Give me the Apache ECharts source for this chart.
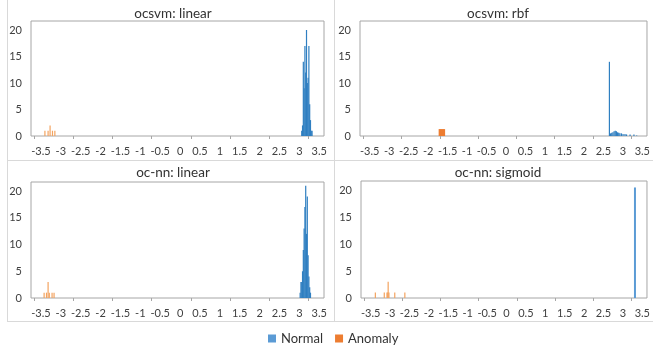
<!DOCTYPE html>
<html>
<head>
<meta charset="utf-8">
<script src="https://cdn.jsdelivr.net/npm/echarts@6/dist/echarts.min.js"></script>
<style>
  html, body { margin: 0; padding: 0; background: #fff; }
  #main { width: 653px; height: 347px; }
</style>
</head>
<body>
<div id="main"></div>
<script>
// chart data
var panelTitles = ['ocsvm: linear', 'ocsvm: rbf', 'oc-nn: linear', 'oc-nn: sigmoid'];
var xLabels = [-3.5, -3, -2.5, -2, -1.5, -1, -0.5, 0, 0.5, 1, 1.5, 2, 2.5, 3, 3.5];
var yLabels = [0, 5, 10, 15, 20];

// ocsvm: linear
var svmLinNormalX = [3.06, 3.08, 3.10, 3.12, 3.14, 3.16, 3.18, 3.20, 3.22, 3.24, 3.26, 3.28, 3.30, 3.32];
var svmLinNormalY = [1, 2, 14, 9, 17, 12, 20, 10, 11, 17, 6, 3, 1, 1];
var svmLinAnomX = [-3.40, -3.32, -3.27, -3.21, -3.15];
var svmLinAnomY = [1, 1, 2, 1, 1];

// ocsvm: rbf
var svmRbfNormalX = [2.66, 2.69, 2.72, 2.75, 2.78, 2.81, 2.84, 2.87, 2.90, 2.93, 2.97, 3.01, 3.06, 3.10, 3.19, 3.29, 3.36];
var svmRbfNormalY = [14, 0.5, 0.6, 0.7, 0.9, 1.0, 0.9, 0.7, 0.6, 0.5, 0.5, 0.4, 0.4, 0.3, 0.3, 0.3, 0.1];
var svmRbfAnomX = [-1.71, -1.685, -1.66, -1.635, -1.61, -1.585];
var svmRbfAnomY = [1.3, 1.3, 1.3, 1.3, 1.3, 1.3];

// oc-nn: linear
var nnLinNormalX = [3.02, 3.04, 3.06, 3.08, 3.10, 3.12, 3.14, 3.16, 3.18, 3.20, 3.22, 3.24, 3.26, 3.28];
var nnLinNormalY = [1, 3, 3, 5, 9, 13, 17, 21, 12, 19, 8, 4, 2, 1];
var nnLinAnomX = [-3.42, -3.36, -3.32, -3.29, -3.22, -3.17];
var nnLinAnomY = [1, 1, 3, 1, 1, 1];

// oc-nn: sigmoid
var nnSigNormalX = [3.30];
var nnSigNormalY = [20.5];
var nnSigAnomX = [-3.38, -3.15, -3.08, -3.06, -3.05, -3.03, -2.88, -2.62];
var nnSigAnomY = [1, 1, 1, 1, 3, 1, 1, 1];

var normalSets = [[svmLinNormalX, svmLinNormalY], [svmRbfNormalX, svmRbfNormalY], [nnLinNormalX, nnLinNormalY], [nnSigNormalX, nnSigNormalY]];
var anomSets = [[svmLinAnomX, svmLinAnomY], [svmRbfAnomX, svmRbfAnomY], [nnLinAnomX, nnLinAnomY], [nnSigAnomX, nnSigAnomY]];

function pairs(xs, ys) {
  return xs.map(function (x, i) { return [x, ys[i]]; });
}

var font = "Lato, sans-serif";
var textColor = '#404040';
var blue = '#2f7fc1';
var lightBlue = '#5b9bd5';
var orange = '#ED7D31';
var lightOrange = '#f3a35f';

var grids = [
  { left: 31, top: 21, width: 293, height: 115 },
  { left: 360, top: 21, width: 289, height: 115 },
  { left: 31, top: 182, width: 293, height: 116 },
  { left: 361, top: 181, width: 289, height: 117 }
];
var titleX = [173, 498, 173, 498];
var titleY = [14, 14, 173, 173];
var xTicks = [-3.67, -2.69, -1.70, -0.72, 0.27, 1.25, 2.24, 3.22];

var myChart = echarts.init(document.getElementById('main'));

var option = {
  animation: false,
  textStyle: { fontFamily: font },
  legend: {
    left: 263, top: 327,
    itemWidth: 8, itemHeight: 8, itemGap: 12,
    icon: 'rect',
    textStyle: { fontSize: 13, color: '#333', fontFamily: font },
    data: [
      { name: 'Normal', itemStyle: { color: lightBlue } },
      { name: 'Anomaly', itemStyle: { color: orange } }
    ]
  },
  grid: grids.map(function (g) {
    return { left: g.left, top: g.top, width: g.width, height: g.height, show: true, borderColor: '#a6a6a6', borderWidth: 1, containLabel: false };
  }),
  xAxis: grids.map(function (g, i) {
    return {
      type: 'value', gridIndex: i, min: -3.75, max: 3.62,
      axisLine: { show: false },
      splitLine: { show: false },
      axisTick: { show: true, customValues: xTicks, length: 3, lineStyle: { color: '#a6a6a6' } },
      axisLabel: { customValues: xLabels, margin: 10, fontSize: 11, color: textColor, fontFamily: font }
    };
  }),
  yAxis: grids.map(function (g, i) {
    return {
      type: 'value', gridIndex: i, min: 0, max: 21.7,
      axisLine: { show: false },
      splitLine: { show: false },
      axisTick: { show: false },
      axisLabel: { customValues: yLabels, margin: 9, fontSize: 11, color: textColor, fontFamily: font }
    };
  }),
  graphic: [
    { type: 'line', shape: { x1: 7.5, y1: 0, x2: 7.5, y2: 321 }, style: { stroke: '#d9d9d9' } },
    { type: 'line', shape: { x1: 334.5, y1: 0, x2: 334.5, y2: 321 }, style: { stroke: '#d9d9d9' } },
    { type: 'line', shape: { x1: 7, y1: 160.5, x2: 653, y2: 160.5 }, style: { stroke: '#d9d9d9' } },
    { type: 'line', shape: { x1: 7, y1: 321.5, x2: 653, y2: 321.5 }, style: { stroke: '#d9d9d9' } }
  ].concat(panelTitles.map(function (t, i) {
    return {
      type: 'text', x: titleX[i], y: titleY[i],
      style: { text: t, textAlign: 'center', textVerticalAlign: 'middle', fontSize: 13.5, fill: '#333', fontFamily: font }
    };
  })),
  series: []
};

normalSets.forEach(function (s, i) {
  option.series.push({
    name: 'Normal', type: 'bar', xAxisIndex: i, yAxisIndex: i,
    barWidth: i === 3 ? 2 : 1.2, barGap: '-100%',
    itemStyle: { color: i === 3 ? lightBlue : blue },
    data: pairs(s[0], s[1])
  });
});
anomSets.forEach(function (s, i) {
  option.series.push({
    name: 'Anomaly', type: 'bar', xAxisIndex: i, yAxisIndex: i,
    barWidth: i === 1 ? 1.6 : 1.2, barGap: '-100%',
    itemStyle: { color: i === 1 ? orange : lightOrange },
    data: pairs(s[0], s[1])
  });
});

myChart.setOption(option);
</script>
</body>
</html>
